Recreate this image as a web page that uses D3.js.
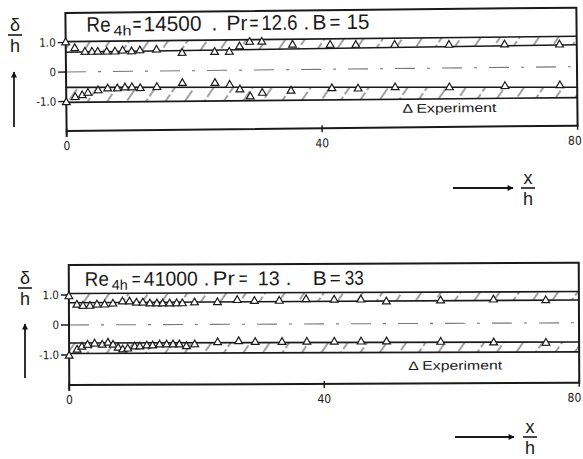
<!DOCTYPE html>
<html><head><meta charset="utf-8">
<script src="https://cdn.jsdelivr.net/npm/d3@7/dist/d3.min.js"></script>
<style>html,body{margin:0;padding:0;background:#fff;} svg{display:block;font-family:"Liberation Sans",Arial,sans-serif;}</style>
</head><body>
<svg id="chart" width="583" height="459"></svg>
<script>
// ---------- data ----------
const xTicks = [0, 40, 80];
const yTicks = [-1, 0, 1];
const yTickLabelsTop = ["-1.0", "0", "1.0"];
const yTickLabelsBot = ["-1.0", "0", "1.0"];
const legendLabel = "Δ Experiment";
const titleTop = ["Re", "4h", "=", "14500", ".", "Pr", "=", "12.6", ".", "B", "=", "15"];
const titleBot = ["Re", "4h", "=", "41000", ".", "Pr", "=", "13", ".", "B", "=", "33"];

// hatched theory bands: edges at x = bandX
const bandX = [0, 80];
const topBandUpperHi = [1.03, 1.03];
const topBandUpperLo = [0.67, 0.74];
const topBandLowerHi = [-0.52, -0.70];
const topBandLowerLo = [-1.03, -1.05];
const botBandUpperHi = [1.05, 1.04];
const botBandUpperLo = [0.74, 0.76];
const botBandLowerHi = [-0.60, -0.64];
const botBandLowerLo = [-0.95, -0.97];

// experiment points [x/h, delta/h]
const topUpper = [[0,1.0],[1.4,0.8],[3,0.67],[4.1,0.67],[5,0.67],[6.4,0.67],[7.7,0.67],[8.9,0.7],[10.3,0.67],[11.6,0.7],[14.2,0.72],[18.2,0.6],[23.3,0.62],[25.6,0.62],[27.2,0.8],[28.8,0.95],[30.7,0.95],[35.5,0.84],[41.4,0.82],[45.4,0.81],[51.5,0.8],[60,0.78],[68.7,0.77],[77.3,0.75]];
const topLower = [[0,-1.03],[1.4,-0.86],[2.5,-0.8],[3.4,-0.72],[5,-0.64],[6.5,-0.58],[8,-0.58],[9.2,-0.55],[10.3,-0.55],[11.6,-0.58],[14.2,-0.55],[18.2,-0.42],[23.3,-0.43],[25.6,-0.5],[27.2,-0.66],[28.8,-0.9],[30.7,-0.78],[35.2,-0.72],[41.6,-0.65],[45.7,-0.67],[51.5,-0.64],[60,-0.66],[68.7,-0.64],[77.3,-0.63]];
const botUpper = [[0,0.95],[1.25,0.67],[2.2,0.63],[3.3,0.63],[4.4,0.67],[5.6,0.67],[6.9,0.7],[8.4,0.77],[9.5,0.77],[10.6,0.73],[11.6,0.73],[12.7,0.7],[13.8,0.7],[14.7,0.7],[15.8,0.7],[16.9,0.7],[17.8,0.7],[19.7,0.73],[23.3,0.73],[26.4,0.8],[29.1,0.77],[33,0.77],[37.2,0.82],[41.6,0.8],[45.8,0.8],[49.8,0.73],[58.3,0.76],[66.6,0.78],[74.8,0.75]];
const botLower = [[0,-1.03],[1.25,-0.83],[2.0,-0.73],[2.9,-0.67],[4.0,-0.63],[5.2,-0.67],[6.1,-0.6],[6.9,-0.67],[7.7,-0.77],[8.4,-0.83],[9.2,-0.8],[10.3,-0.73],[11.1,-0.73],[12.2,-0.7],[13.1,-0.7],[14.2,-0.67],[15.3,-0.67],[16.3,-0.67],[17.3,-0.67],[18.4,-0.73],[19.7,-0.67],[23.3,-0.6],[26.6,-0.57],[29.2,-0.6],[33.4,-0.6],[37.3,-0.6],[41.6,-0.6],[45.8,-0.6],[49.8,-0.6],[58.3,-0.62],[66.6,-0.65],[74.8,-0.67]];

// ---------- drawing ----------
const svg = d3.select("#chart");
const defs = svg.append("defs");
defs.append("pattern").attr("id","hatch").attr("width",16).attr("height",16)
  .attr("patternUnits","userSpaceOnUse").attr("patternTransform","rotate(35)")
  .append("line").attr("x1",2).attr("y1",0).attr("x2",2).attr("y2",16)
  .attr("stroke","#444").attr("stroke-width",1).attr("stroke-dasharray","10,3");
defs.append("marker").attr("id","arrow").attr("viewBox","0 0 10 10").attr("refX",9).attr("refY",5)
  .attr("markerWidth",9).attr("markerHeight",6).attr("orient","auto-start-reverse").attr("markerUnits","userSpaceOnUse")
  .append("path").attr("d","M0,0 L10,5 L0,10 Z").attr("fill","#111");

const ink = "#1a1a1a";

function drawPanel(c) {
  const x = d3.scaleLinear().domain([0, 80]).range([c.x0, c.x1]);
  const y = d3.scaleLinear().domain([-2, 2]).range([c.y0 + 2 * c.k, c.y0 - 2 * c.k]);
  const g = svg.append("g").attr("transform", `rotate(${c.rot},${c.x0},${c.y0})`);

  // bands
  const mk = (hi, lo) => bandX.map((bx, i) => ({ x: bx, hi: hi[i], lo: lo[i] }));
  const area = d3.area().x(d => x(d.x)).y0(d => y(d.lo)).y1(d => y(d.hi));
  [mk(c.bUH, c.bUL), mk(c.bLH, c.bLL)].forEach(b => {
    g.append("path").datum(b).attr("d", area).attr("fill", "url(#hatch)").attr("stroke", "none");
    ["hi", "lo"].forEach(k => {
      g.append("path").datum(b).attr("d", d3.line().x(d => x(d.x)).y(d => y(d[k])))
        .attr("fill", "none").attr("stroke", ink).attr("stroke-width", 1.6);
    });
  });

  // centre line
  g.append("line").attr("x1", x(0)).attr("x2", x(80)).attr("y1", y(0)).attr("y2", y(0))
    .attr("stroke", "#777").attr("stroke-width", 1.1).attr("stroke-dasharray", "20,12,3,12");

  // frame
  g.append("rect").attr("x", x(0)).attr("y", y(2)).attr("width", x(80) - x(0)).attr("height", y(-2) - y(2))
    .attr("fill", "none").attr("stroke", ink).attr("stroke-width", 2);
  g.append("line").attr("x1", x(0)).attr("x2", x(0)).attr("y1", y(-2)).attr("y2", y(-2) + 6)
    .attr("stroke", ink).attr("stroke-width", 2);

  // y ticks
  yTicks.forEach((t, i) => {
    g.append("line").attr("x1", x(0) - 8).attr("x2", x(0)).attr("y1", y(t)).attr("y2", y(t))
      .attr("stroke", ink).attr("stroke-width", 1.4);
    g.append("text").attr("x", x(0) - 10).attr("y", y(t)).attr("dy", "0.35em")
      .attr("text-anchor", "end").attr("font-size", 11.5).attr("fill", ink)
      .attr("font-family", "'Liberation Sans Narrow','DejaVu Sans Condensed',sans-serif")
      .text(c.yLabels[i]);
  });
  // x ticks
  xTicks.forEach(t => {
    g.append("line").attr("x1", x(t)).attr("x2", x(t)).attr("y1", y(-2) - 3).attr("y2", y(-2) + 4)
      .attr("stroke", ink).attr("stroke-width", 1.4);
    const last = t === 80;
    g.append("text").attr("x", last ? Math.min(x(t) + 6, 581) : x(t)).attr("y", y(-2) + 19)
      .attr("text-anchor", last ? "end" : "middle").attr("font-size", 12).attr("fill", ink)
      .attr("font-family", "'Liberation Sans Narrow','DejaVu Sans Condensed',sans-serif")
      .text(t);
  });

  // points
  const sym = d3.symbol(d3.symbolTriangle, 26);
  [c.up, c.lo].forEach(pts => {
    g.selectAll(null).data(pts).enter().append("path")
      .attr("d", sym).attr("transform", d => `translate(${x(d[0])},${y(d[1])})`)
      .attr("fill", "#fff").attr("stroke", ink).attr("stroke-width", 1.2);
  });

  // title pieces, fitted to the widths seen in the reference
  c.title.forEach((s, i) => {
    const sub = i === 1;
    const t = g.append("text").attr("x", c.tx[i]).attr("y", c.tb + (sub ? 4 : 0))
      .attr("font-size", sub ? 14 : c.fs).attr("fill", ink).text(s);
    if (c.tw[i] > 0) t.attr("textLength", c.tw[i]).attr("lengthAdjust", "spacingAndGlyphs");
  });

  // legend
  g.append("text").attr("x", c.lx).attr("y", c.ly).attr("dy", "0.35em")
    .attr("font-size", 12.5).attr("fill", ink).attr("textLength", 94).attr("lengthAdjust", "spacingAndGlyphs")
    .text(legendLabel);
}

drawPanel({ x0: 66, x1: 577, y0: 72, k: 29.5, rot: -0.6,
  bUH: topBandUpperHi, bUL: topBandUpperLo, bLH: topBandLowerHi, bLL: topBandLowerLo,
  up: topUpper, lo: topLower, yLabels: yTickLabelsTop,
  title: titleTop,
  tx: [87, 114, 133, 144, 212, 227, 250, 262, 304, 313, 330, 347],
  tw: [24, 18, 9, 58, 0, 21, 9, 36, 0, 14, 11, 23],
  tb: 32, fs: 21,
  lx: 402, ly: 112 });

drawPanel({ x0: 69, x1: 579, y0: 325, k: 30, rot: -0.25,
  bUH: botBandUpperHi, bUL: botBandUpperLo, bLH: botBandLowerHi, bLL: botBandLowerLo,
  up: botUpper, lo: botLower, yLabels: yTickLabelsBot,
  title: titleBot,
  tx: [85, 112, 132, 144, 204, 213, 239, 258, 286, 313, 330, 345],
  tw: [24, 16, 9, 54, 0, 22, 9, 22, 0, 14, 11, 19],
  tb: 286, fs: 20,
  lx: 408, ly: 367 });

// axis titles
function fracLabel(cx, top, num, den) {
  svg.append("text").attr("x", cx).attr("y", top + 13).attr("text-anchor", "middle")
    .attr("font-size", 18).attr("fill", ink).text(num);
  svg.append("line").attr("x1", cx - 7).attr("x2", cx + 7).attr("y1", top + 17).attr("y2", top + 17)
    .attr("stroke", ink).attr("stroke-width", 1.6);
  svg.append("text").attr("x", cx).attr("y", top + 34).attr("text-anchor", "middle")
    .attr("font-size", 18).attr("fill", ink).text(den);
}
fracLabel(15, 18, "δ", "h");
svg.append("line").attr("x1", 14).attr("x2", 14).attr("y1", 127).attr("y2", 72)
  .attr("stroke", ink).attr("stroke-width", 1.8).attr("marker-end", "url(#arrow)");
fracLabel(25, 271, "δ", "h");
svg.append("line").attr("x1", 25).attr("x2", 25).attr("y1", 378).attr("y2", 324)
  .attr("stroke", ink).attr("stroke-width", 1.8).attr("marker-end", "url(#arrow)");

fracLabel(528, 171, "x", "h");
svg.append("line").attr("x1", 453).attr("x2", 513).attr("y1", 188).attr("y2", 188)
  .attr("stroke", ink).attr("stroke-width", 1.8).attr("marker-end", "url(#arrow)");
fracLabel(530, 420, "x", "h");
svg.append("line").attr("x1", 455).attr("x2", 514).attr("y1", 437).attr("y2", 437)
  .attr("stroke", ink).attr("stroke-width", 1.8).attr("marker-end", "url(#arrow)");
</script>
</body></html>
